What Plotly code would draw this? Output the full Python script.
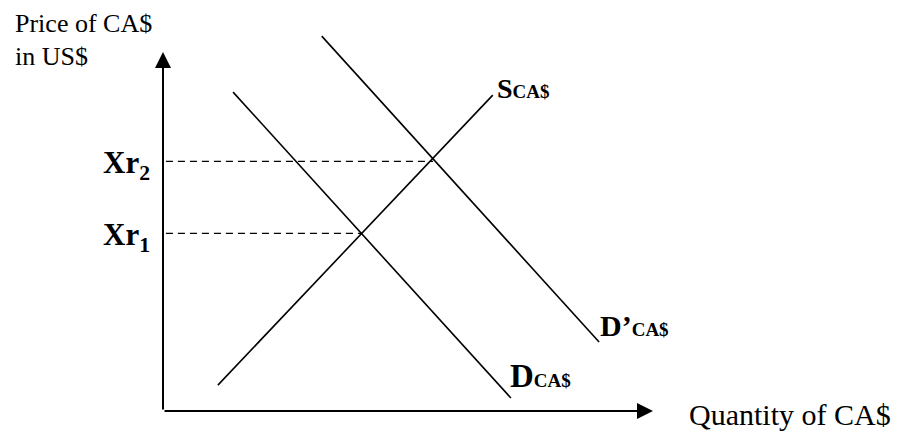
import plotly.graph_objects as go

# ── data (quantity on x, price on y, arbitrary units 0-10) ───────────────────
supply_q   = [1.12, 6.73]
supply_p   = [0.68, 8.29]
demand_q   = [1.43, 7.10]
demand_p   = [8.37, 0.34]
demand2_q  = [3.24, 8.90]
demand2_p  = [9.84, 1.81]

xr_labels  = ["<b>Xr<sub>1</sub></b>", "<b>Xr<sub>2</sub></b>"]
xr_price   = [4.66, 6.55]
xr_qty     = [4.06, 5.51]   # where each rate meets the supply curve

Y_TOP  = 9.42   # tip of price axis arrow
X_END  = 10.0   # tip of quantity axis arrow

FONT = "Liberation Serif, Times New Roman, serif"
BLACK = "black"


def paper(q, p):
    # axis units -> paper fraction (axes span 0..10), lets labels sit outside the range
    return q / 10.0, p / 10.0


def curve_label(main, sub, sub_px):
    # small caps-like subscript sitting nearly on the baseline, as in the original
    return f'<b>{main}<span style="font-size:{sub_px}px">{sub}</span></b>'


fig = go.Figure()

line = dict(color=BLACK, width=1.6)
fig.add_trace(go.Scatter(x=supply_q, y=supply_p, mode="lines", line=line))
fig.add_trace(go.Scatter(x=demand_q, y=demand_p, mode="lines", line=line))
fig.add_trace(go.Scatter(x=demand2_q, y=demand2_p, mode="lines", line=line))

# dashed guides from the price axis to the equilibria
for p, q in zip(xr_price, xr_qty):
    fig.add_trace(go.Scatter(x=[0.06, q], y=[p, p], mode="lines",
                             line=dict(color=BLACK, width=1.3, dash="7px,5px")))

# axes with arrow heads
fig.add_annotation(x=0, y=Y_TOP, ax=0, ay=0, xref="x", yref="y", axref="x", ayref="y",
                   text="", showarrow=True, arrowhead=2, arrowsize=1.6, arrowwidth=2,
                   arrowcolor=BLACK)
fig.add_annotation(x=X_END, y=0, ax=0, ay=0, xref="x", yref="y", axref="x", ayref="y",
                   text="", showarrow=True, arrowhead=2, arrowsize=1.6, arrowwidth=2,
                   arrowcolor=BLACK)


def label(q, p, text, size, xanchor="left", shift=0):
    x, y = paper(q, p)
    fig.add_annotation(x=x, y=y, xref="paper", yref="paper", text=text, showarrow=False,
                       xanchor=xanchor, yanchor="middle", yshift=shift,
                       font=dict(size=size, family=FONT, color=BLACK))


label(-3.06, 10.26, "Price of CA$", 26, shift=-3)
label(-3.06, 9.37, "in US$", 26, shift=-2)
label(10.69, -0.09, "Quantity of CA$", 30)

for lbl, p in zip(xr_labels, xr_price):
    label(-0.22, p, lbl, 31, xanchor="right", shift=-4)

label(6.78, 8.50, curve_label("S", "CA$", 19), 28, shift=-1)
label(7.04, 0.97, curve_label("D", "CA$", 19), 33, shift=-2)
label(8.88, 2.30, curve_label("D\u2019", "CA$", 19), 30, shift=-2)

fig.update_xaxes(range=[0, 10], visible=False)
fig.update_yaxes(range=[0, 10], visible=False)
fig.update_layout(
    width=904, height=437,
    # page body adds 8px offset; shift margins so the axes land where they should
    margin=dict(l=155, r=259, t=22, b=34),
    showlegend=False,
    plot_bgcolor="white", paper_bgcolor="white",
)

fig.write_html("out.html")
